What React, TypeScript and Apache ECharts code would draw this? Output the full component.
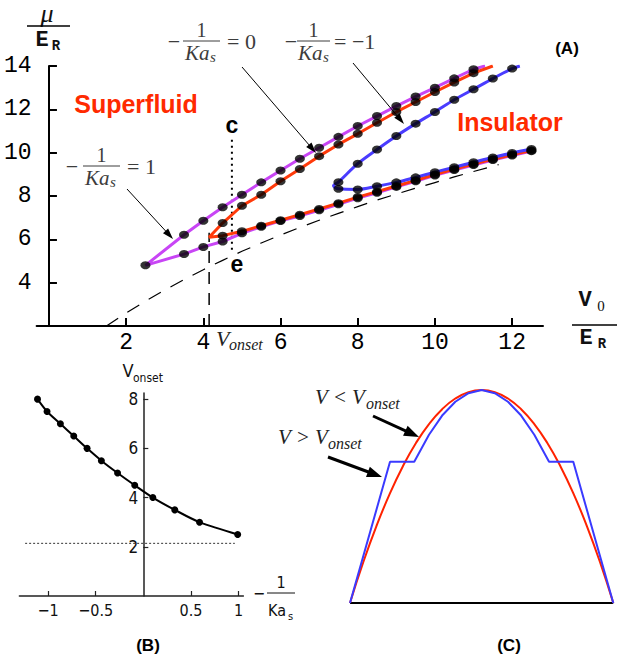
import React, { useEffect, useRef } from "react";
import * as echarts from "echarts";

type P = [number, number];

// ---------- Panel A data ----------
const magentaTip: P = [2.5, 4.8];
const magentaUpper: P[] = [
  [3.5, 6.21], [4.0, 6.86], [4.5, 7.48], [5.0, 8.06], [5.5, 8.63], [6.0, 9.18],
  [6.5, 9.72], [7.0, 10.23], [7.5, 10.73], [8.0, 11.23], [8.5, 11.69], [9.0, 12.15],
  [9.5, 12.59], [10.0, 13.0], [10.5, 13.43], [11.0, 13.85],
];
const magentaUpperEnd: P = [11.3, 14.0];
const magentaLower: P[] = [
  [3.5, 5.32], [4.0, 5.65], [4.5, 5.9], [5.0, 6.28], [5.5, 6.58], [6.0, 6.85],
  [6.5, 7.08], [7.0, 7.34], [7.5, 7.62], [8.0, 7.9], [8.5, 8.15], [9.0, 8.42],
  [9.5, 8.68], [10.0, 8.95], [10.5, 9.2], [11.0, 9.43], [11.5, 9.66], [12.0, 9.87], [12.5, 10.07],
];

const redTip: P = [4.15, 6.1];
const redUpper: P[] = [
  [4.5, 6.75], [5.0, 7.55], [5.5, 8.06], [6.0, 8.68], [6.5, 9.25], [7.0, 9.84],
  [7.5, 10.38], [8.0, 10.87], [8.5, 11.38], [9.0, 11.88], [9.5, 12.34], [10.0, 12.8],
  [10.5, 13.24], [11.0, 13.67],
];
const redUpperEnd: P = [11.5, 14.0];
const redLower: P[] = [
  [4.5, 6.17], [5.0, 6.37], [5.5, 6.63], [6.0, 6.88], [6.5, 7.14], [7.0, 7.4],
  [7.5, 7.67], [8.0, 7.95], [8.5, 8.2], [9.0, 8.46], [9.5, 8.72], [10.0, 8.99],
  [10.5, 9.24], [11.0, 9.47], [11.5, 9.7], [12.0, 9.91], [12.5, 10.1],
];

const blueTip: P = [7.37, 8.47];
const blueUpper: P[] = [
  [7.5, 8.64], [8.0, 9.49], [8.5, 10.15], [9.0, 10.77], [9.5, 11.34], [10.0, 11.88],
  [10.5, 12.44], [11.0, 12.93], [11.5, 13.42], [12.0, 13.88],
];
const blueUpperEnd: P = [12.2, 14.0];
const blueLower: P[] = [
  [7.5, 8.33], [8.0, 8.3], [8.5, 8.45], [9.0, 8.63], [9.5, 8.86], [10.0, 9.1],
  [10.5, 9.33], [11.0, 9.56], [11.5, 9.78], [12.0, 9.99], [12.5, 10.17],
];

const dashX = [1.49, 2.0, 2.5, 3.0, 3.5, 4.0, 4.5, 5.0, 5.5, 6.0, 6.5, 7.0, 7.5, 8.0, 8.5, 9.0, 9.5, 10.0, 10.5, 11.0, 11.65];
const dashY = [2.0, 2.6, 3.15, 3.66, 4.14, 4.6, 5.03, 5.45, 5.83, 6.2, 6.55, 6.88, 7.2, 7.51, 7.81, 8.09, 8.36, 8.62, 8.88, 9.13, 9.45];

const vOnsetLine: P[] = [[4.15, 2.0], [4.15, 6.3]];
const cLine: P[] = [[4.74, 10.6], [4.74, 5.45]];

const aTicksX = [2, 4, 6, 8, 10, 12];
const aTicksY = [4, 6, 8, 10, 12, 14];

// ---------- Panel B data ----------
const bX = [-1.11, -1.01, -0.87, -0.73, -0.59, -0.44, -0.27, -0.09, 0.1, 0.33, 0.59, 0.99];
const bY = [8.0, 7.5, 7.0, 6.5, 6.0, 5.5, 5.0, 4.5, 4.0, 3.5, 3.0, 2.5];
const bDotted: P[] = [[-1.24, 2.14], [0.96, 2.14]];
const bTicksX = [-1, -0.5, 0.5, 1];
const bTicksY = [2, 4, 6, 8];

// ---------- Panel C data ----------
const cRedX = [0, 0.05, 0.1, 0.15, 0.2, 0.25, 0.3, 0.35, 0.4, 0.45, 0.5, 0.55, 0.6, 0.65, 0.7, 0.75, 0.8, 0.85, 0.9, 0.95, 1];
const cRedY = [0, 0.19, 0.36, 0.51, 0.64, 0.75, 0.84, 0.91, 0.96, 0.99, 1, 0.99, 0.96, 0.91, 0.84, 0.75, 0.64, 0.51, 0.36, 0.19, 0];
const cBlueX = [0, 0.152, 0.244, 0.3, 0.35, 0.4, 0.45, 0.5, 0.55, 0.6, 0.65, 0.7, 0.756, 0.848, 1];
const cBlueY = [0, 0.663, 0.663, 0.79, 0.88, 0.945, 0.985, 1, 0.985, 0.945, 0.88, 0.79, 0.663, 0.663, 0];
const cBase: P[] = [[0, 0], [1, 0]];

const MAGENTA = "#c845f5";
const RED = "#ff3a0a";
const BLUE = "#4a3cff";

const zip = (xs: number[], ys: number[]): P[] => xs.map((x, i) => [x, ys[i]]);

function branchPath(upperEnd: P, upper: P[], tip: P, lower: P[]): P[] {
  return [upperEnd, ...[...upper].reverse(), tip, ...lower];
}

function txt(text: string, x: number, y: number, size: number, o: any = {}) {
  return {
    type: "text",
    x,
    y,
    z: 20,
    style: {
      text,
      fontSize: size,
      fontFamily: o.family || "Liberation Serif",
      fontStyle: o.italic ? "italic" : "normal",
      fontWeight: o.bold ? "bold" : "normal",
      fill: o.color || "#111",
      align: o.align || "center",
      verticalAlign: "middle",
    },
  };
}

function hline(x1: number, x2: number, y: number, w = 1, color = "#333") {
  return { type: "line", z: 20, shape: { x1, y1: y, x2, y2: y }, style: { stroke: color, lineWidth: w } };
}

function arrow(x1: number, y1: number, x2: number, y2: number, lw: number, hl: number, hw: number) {
  const dx = x2 - x1, dy = y2 - y1;
  const L = Math.hypot(dx, dy);
  const ux = dx / L, uy = dy / L;
  const bx = x2 - ux * hl, by = y2 - uy * hl;
  const px = -uy, py = ux;
  return [
    { type: "line", z: 20, shape: { x1, y1, x2: bx + ux * 2, y2: by + uy * 2 }, style: { stroke: "#000", lineWidth: lw } },
    {
      type: "polygon",
      z: 20,
      shape: { points: [[x2, y2], [bx + (px * hw) / 2, by + (py * hw) / 2], [bx - (px * hw) / 2, by - (py * hw) / 2]] },
      style: { fill: "#000" },
    },
  ];
}

const FR = "#3c3c3c";
function kaFrac(minusX: number, barX1: number, barX2: number, barY: number, kaX: number, suffix: string, sufX: number) {
  const mid = (barX1 + barX2) / 2;
  return [
    txt("−", minusX, barY, 22, { color: FR }),
    hline(barX1, barX2, barY, 1, FR),
    txt("1", mid, barY - 11.5, 20, { color: FR }),
    txt("Ka", kaX, barY + 11.5, 21, { italic: true, color: FR, align: "left" }),
    txt("s", kaX + 25, barY + 16, 15, { italic: true, color: FR, align: "left" }),
    txt(suffix, sufX, barY, 22, { color: FR, align: "left" }),
  ];
}

export default function App() {
  const ref = useRef<HTMLDivElement>(null);
  useEffect(() => {
    if (!ref.current) return;
    const chart = echarts.init(ref.current, undefined, { renderer: "svg" });
    const mono = "Liberation Mono";
    const narrow = "DejaVu Sans Condensed";

    const dotStyle = { symbol: "circle", symbolSize: [10, 8], itemStyle: { color: "#000" } };

    const magentaDots = [magentaTip, ...magentaUpper, ...magentaLower];
    const redDots = [...redUpper, ...redLower];
    const blueDots = [...blueUpper, ...blueLower];

    const graphic: any[] = [
      // Panel A axis names
      txt("μ", 47, 13, 26, { italic: true, color: "#111" }),
      hline(27, 70, 26, 1.3, "#000"),
      txt("E", 42, 40, 22, { family: mono, bold: true, color: "#111" }),
      txt("R", 56, 46, 14, { family: mono, bold: true, color: "#111" }),
      txt("V", 585, 300, 22, { family: mono, bold: true, color: "#111" }),
      txt("0", 601, 306, 15, { family: "Liberation Serif", color: "#111" }),
      hline(572, 617, 325, 1.3, "#000"),
      txt("E", 586, 338, 22, { family: mono, bold: true, color: "#111" }),
      txt("R", 602, 344, 14, { family: mono, bold: true, color: "#111" }),
      // fraction labels
      ...kaFrac(174, 183, 220, 41, 185, "= 0", 227),
      ...kaFrac(291, 297, 330, 41, 298, "= −1", 334),
      ...kaFrac(72, 83, 120, 166, 85, "= 1", 127),
      ...arrow(242, 67, 316, 153, 1, 11, 7),
      ...arrow(353, 63, 404, 124, 1, 11, 7),
      ...arrow(127, 189, 173, 239, 1, 11, 7),
      // phase labels
      txt("Superfluid", 136, 104, 25, { family: "Liberation Sans", bold: true, color: "#ff2a00" }),
      txt("Insulator", 510, 122, 25, { family: "Liberation Sans", bold: true, color: "#ff2a00" }),
      txt("(A)", 567, 48, 17, { family: "Liberation Sans", bold: true, color: "#000" }),
      txt("c", 232, 125, 23, { family: "Liberation Sans", bold: true, color: "#000" }),
      txt("e", 237, 264, 23, { family: "Liberation Sans", bold: true, color: "#000" }),
      txt("V", 216, 338, 22, { italic: true, color: "#222", align: "left" }),
      txt("onset", 229, 344, 16, { italic: true, color: "#222", align: "left" }),
      // Panel B labels
      txt("V", 128, 370, 18, { family: narrow, color: "#111" }),
      txt("onset", 133, 378, 12, { family: narrow, color: "#111", align: "left" }),
      txt("−", 259, 593, 16, { family: narrow, color: "#111" }),
      hline(267, 295, 593, 1, "#111"),
      txt("1", 281, 582, 16, { family: narrow, color: "#111" }),
      txt("Ka", 268, 610, 16, { family: narrow, color: "#111", align: "left" }),
      txt("s", 288, 616, 11, { family: narrow, color: "#111", align: "left" }),
      txt("(B)", 148, 645, 17, { family: "Liberation Sans", bold: true, color: "#000" }),
      // Panel C labels
      txt("V < V", 315, 397, 21, { italic: true, color: "#222", align: "left" }),
      txt("onset", 366, 403, 16, { italic: true, color: "#222", align: "left" }),
      txt("V > V", 278, 437, 21, { italic: true, color: "#222", align: "left" }),
      txt("onset", 328, 443, 16, { italic: true, color: "#222", align: "left" }),
      ...arrow(373, 416, 419, 437, 3, 15, 11),
      ...arrow(328, 457, 382, 477, 3, 15, 11),
      txt("(C)", 509, 645, 17, { family: "Liberation Sans", bold: true, color: "#000" }),
    ];

    const option: any = {
      animation: false,
      backgroundColor: "#fff",
      grid: [
        { left: 36.6, top: 66, width: 506.4, height: 260 },
        { left: 19.4, top: 393, width: 224, height: 203 },
        { left: 350, top: 390, width: 263.3, height: 213 },
      ],
      xAxis: [
        {
          gridIndex: 0, type: "value", min: -0.32, max: 12.8,
          axisLine: { onZero: false, lineStyle: { color: "#000", width: 2 } },
          axisTick: { inside: true, length: 8, customValues: aTicksX, lineStyle: { color: "#000", width: 2 } },
          axisLabel: { customValues: aTicksX, fontFamily: mono, fontSize: 23, color: "#000", margin: 5 },
          splitLine: { show: false },
        },
        {
          gridIndex: 1, type: "value", min: -1.3, max: 1.05,
          axisLine: { onZero: true, lineStyle: { color: "#222", width: 1.5 } },
          axisTick: { inside: true, length: 5, customValues: bTicksX, lineStyle: { color: "#222", width: 1.2 } },
          axisLabel: { customValues: bTicksX, fontFamily: narrow, fontSize: 16, color: "#111", margin: 6,
            formatter: (v: number) => String(v).replace("-", "−") },
          splitLine: { show: false },
        },
        { gridIndex: 2, type: "value", min: 0, max: 1, show: false },
      ],
      yAxis: [
        {
          gridIndex: 0, type: "value", min: 2, max: 14,
          axisLine: { onZero: true, lineStyle: { color: "#000", width: 2 } },
          axisTick: { inside: true, length: 8, customValues: aTicksY, lineStyle: { color: "#000", width: 2 } },
          axisLabel: { customValues: aTicksY, fontFamily: mono, fontSize: 23, color: "#000", margin: 5 },
          splitLine: { show: false },
        },
        {
          gridIndex: 1, type: "value", min: 0, max: 8.25,
          axisLine: { onZero: true, lineStyle: { color: "#222", width: 1.5 } },
          axisTick: { inside: true, length: 5, customValues: bTicksY, lineStyle: { color: "#222", width: 1.2 } },
          axisLabel: { show: false },
          splitLine: { show: false },
        },
        { gridIndex: 2, type: "value", min: 0, max: 1, show: false },
      ],
      series: [
        { type: "line", xAxisIndex: 0, yAxisIndex: 0, data: zip(dashX, dashY), showSymbol: false,
          lineStyle: { color: "#000", width: 1.2, type: [14, 11] }, z: 2 },
        { type: "line", xAxisIndex: 0, yAxisIndex: 0, data: vOnsetLine, showSymbol: false,
          lineStyle: { color: "#000", width: 1.5, type: [12, 9] }, z: 2 },
        { type: "line", xAxisIndex: 0, yAxisIndex: 0, data: cLine, showSymbol: false,
          lineStyle: { color: "#000", width: 2, type: [2, 4] }, z: 2 },
        { type: "line", xAxisIndex: 0, yAxisIndex: 0, data: branchPath(magentaUpperEnd, magentaUpper, magentaTip, magentaLower),
          showSymbol: false, lineStyle: { color: MAGENTA, width: 3 }, z: 3 },
        { type: "line", xAxisIndex: 0, yAxisIndex: 0, data: branchPath(redUpperEnd, redUpper, redTip, redLower),
          showSymbol: false, lineStyle: { color: RED, width: 3 }, z: 4 },
        { type: "line", xAxisIndex: 0, yAxisIndex: 0, data: branchPath(blueUpperEnd, blueUpper, blueTip, blueLower),
          showSymbol: false, smooth: 0.3, lineStyle: { color: BLUE, width: 3 }, z: 5 },
        { type: "scatter", xAxisIndex: 0, yAxisIndex: 0, data: [...magentaDots, ...redDots, ...blueDots], ...dotStyle, z: 10 },
        // Panel B
        { type: "line", xAxisIndex: 1, yAxisIndex: 1, data: bDotted, showSymbol: false,
          lineStyle: { color: "#333", width: 1, type: [2, 2] } },
        { type: "line", xAxisIndex: 1, yAxisIndex: 1, data: zip(bX, bY), smooth: 0.3, symbol: "circle", symbolSize: 7,
          showSymbol: true, itemStyle: { color: "#000" }, lineStyle: { color: "#000", width: 2 } },
        // Panel C
        { type: "line", xAxisIndex: 2, yAxisIndex: 2, data: cBase, showSymbol: false, lineStyle: { color: "#000", width: 2 } },
        { type: "line", xAxisIndex: 2, yAxisIndex: 2, data: zip(cRedX, cRedY), smooth: true, showSymbol: false,
          lineStyle: { color: "#ff2200", width: 2 } },
        { type: "line", xAxisIndex: 2, yAxisIndex: 2, data: zip(cBlueX, cBlueY), showSymbol: false,
          lineStyle: { color: "#3a3aff", width: 2 } },
      ],
    };
    chart.setOption(option);

    // Panel B y tick labels placed beside the axis drawn at x = 0
    const bLabels = bTicksY.map((v) => {
      const pt = chart.convertToPixel({ xAxisIndex: 1, yAxisIndex: 1 }, [0, v]) as number[];
      return txt(String(v), pt[0] - 5, pt[1], 17, { family: narrow, color: "#111", align: "right" });
    });
    chart.setOption({ graphic: [...graphic, ...bLabels] });
    return () => chart.dispose();
  }, []);
  return (
    <div
      ref={ref}
      style={{ position: "fixed", left: 0, top: 0, width: 625, height: 658, background: "#fff" }}
    />
  );
}
